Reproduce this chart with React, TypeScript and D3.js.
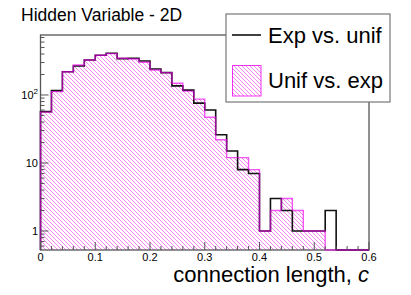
import React from "react";
import * as d3 from "d3";

const binEdgesStart = 0;
const binWidth = 0.02;
const expVsUnif = [57, 116, 220, 267, 327, 383, 410, 343, 347, 316, 241, 213, 136, 118, 76, 60, 26, 15, 8, 7, 1, 3, 2, 1, 1, 1, 2, 0, 0, 0];
const unifVsExp = [56, 112, 220, 276, 327, 383, 405, 346, 338, 303, 233, 213, 149, 114, 87, 47, 22, 12, 12, 8, 1, 2, 3, 2, 1, 1, 0, 0, 0, 0];
const xTickLabels = ["0", "0.1", "0.2", "0.3", "0.4", "0.5", "0.6"];
const xTickValues = [0, 0.1, 0.2, 0.3, 0.4, 0.5, 0.6];
const yMajorTicks = [1, 10, 100];
const title = "Hidden Variable - 2D";
const xTitle = "connection length, ";
const legendLabels = ["Exp vs. unif", "Unif vs. exp"];

const W = 411;
const H = 295;
const FONT = "'Liberation Sans', Arial, Helvetica, sans-serif";

export default function App() {
  const x = d3.scaleLinear().domain([0, 0.6]).range([40.5, 369]);
  const y = d3.scaleLog().domain([0.5255, 762]).range([250, 35]);
  const bottom = y.range()[0];
  const top = y.range()[1];

  const stepPath = (vals: number[]) => {
    const pts: [number, number][] = [];
    pts.push([x(binEdgesStart), bottom]);
    vals.forEach((v, i) => {
      const x0 = x(binEdgesStart + i * binWidth);
      const x1 = x(binEdgesStart + (i + 1) * binWidth);
      const yy = v > 0 ? y(v) : bottom;
      pts.push([x0, yy]);
      pts.push([x1, yy]);
    });
    pts.push([x(binEdgesStart + vals.length * binWidth), bottom]);
    return d3.line()(pts) as string;
  };

  const expPath = stepPath(expVsUnif);
  const unifPath = stepPath(unifVsExp);

  const xMinor: number[] = d3.range(0, 31).map((i) => i * 0.02);
  const yAll: { v: number; major: boolean }[] = [];
  [0.1, 1, 10, 100].forEach((d) => {
    for (let k = 1; k <= 9; k++) {
      const v = k * d;
      if (v >= y.domain()[0] && v <= y.domain()[1]) yAll.push({ v, major: k === 1 });
    }
  });

  const axisColor = "#555";

  return (
    <svg width={W} height={H} style={{ position: "absolute", left: 0, top: 0, background: "#fff" }} fontFamily={FONT}>
      <defs>
        <pattern id="hatch" patternUnits="userSpaceOnUse" width={4} height={4}>
          <rect width={4} height={4} fill="#fff" />
          <path d="M0,0 L4,4 M-1,3 L1,5 M3,-1 L5,1" stroke="#f27af2" strokeWidth={0.9} />
        </pattern>
      </defs>
      <rect x={0} y={0} width={W} height={H} fill="#fff" />

      <path d={unifPath + "Z"} fill="url(#hatch)" stroke="none" />

      <rect x={x(0)} y={top} width={x(0.6) - x(0)} height={bottom - top} fill="none" stroke={axisColor} strokeWidth={1.3} />

      <path d={expPath} fill="none" stroke="#111" strokeWidth={1.6} />
      <path d={unifPath} fill="none" stroke="#ee00ee" strokeOpacity={0.65} strokeWidth={1.4} />

      {xMinor.map((v, i) => {
        const major = i % 5 === 0;
        return (
          <line key={"xt" + i} x1={x(v)} x2={x(v)} y1={bottom} y2={bottom - (major ? 8 : 4)} stroke={axisColor} strokeWidth={1} />
        );
      })}
      {xTickValues.map((v, i) => (
        <text key={"xl" + i} x={x(v)} y={261} fontSize={11} textAnchor="middle" fill="#000">
          {xTickLabels[i]}
        </text>
      ))}

      {yAll.map((t, i) => (
        <line key={"yt" + i} x1={x(0)} x2={x(0) + (t.major ? 8 : 4)} y1={y(t.v)} y2={y(t.v)} stroke={axisColor} strokeWidth={1} />
      ))}
      {yMajorTicks.map((v, i) => {
        const yy = y(v) + 4;
        if (v === 100) {
          return (
            <text key={"yl" + i} x={38} y={yy} fontSize={11} textAnchor="end" fill="#000">
              10<tspan fontSize={8} dy={-5}>2</tspan>
            </text>
          );
        }
        return (
          <text key={"yl" + i} x={38} y={yy} fontSize={11} textAnchor="end" fill="#000">
            {String(v)}
          </text>
        );
      })}

      <text x={369} y={282} fontSize={22} textAnchor="end" fill="#000">
        {xTitle}
        <tspan fontStyle="italic">c</tspan>
      </text>

      <text x={21} y={21} fontSize={17.5} fill="#000">
        {title}
      </text>

      <rect x={226} y={14} width={164} height={88} fill="#fff" stroke="#777" strokeWidth={1.2} />
      <line x1={232} x2={261} y1={35} y2={35} stroke="#111" strokeWidth={1.6} />
      <text x={268} y={43} fontSize={22} fill="#000">
        {legendLabels[0]}
      </text>
      <rect x={232.5} y={65.5} width={28.5} height={30.5} fill="url(#hatch)" stroke="#ee00ee" strokeOpacity={0.8} strokeWidth={1} />
      <text x={268} y={88} fontSize={22} fill="#000">
        {legendLabels[1]}
      </text>
    </svg>
  );
}
